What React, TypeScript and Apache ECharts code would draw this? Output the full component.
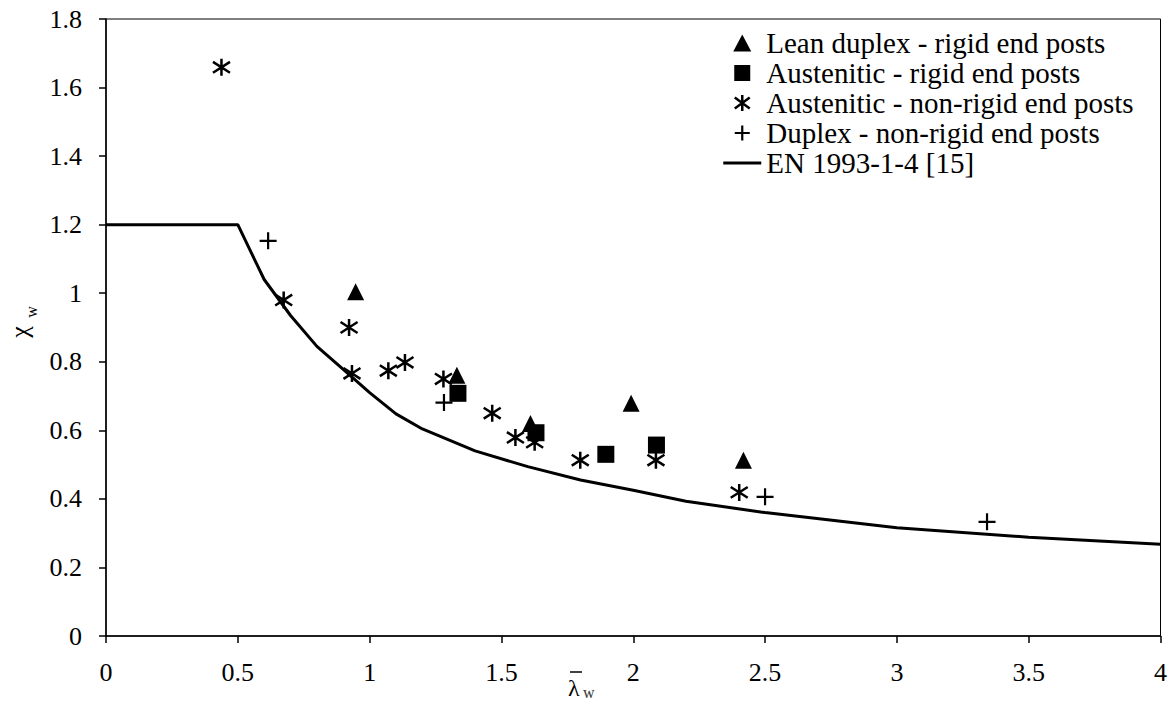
import React, { useEffect, useRef } from 'react';
import * as echarts from 'echarts';

// EN 1993-1-4 design curve
const curveLambda = [0, 0.5, 0.6, 0.7, 0.8, 0.9, 1.0, 1.1, 1.2, 1.4, 1.6, 1.8, 2.0, 2.2, 2.5, 3.0, 3.5, 4.0];
const curveChi = [1.2, 1.2, 1.04, 0.935, 0.845, 0.778, 0.71, 0.648, 0.604, 0.54, 0.494, 0.455, 0.425, 0.393, 0.36, 0.316, 0.288, 0.268];

// Lean duplex - rigid end posts
const leanLambda = [0.947, 1.331, 1.61, 1.992, 2.418];
const leanChi = [1.004, 0.761, 0.62, 0.679, 0.513];

// Austenitic - rigid end posts
const austRigidLambda = [1.335, 1.631, 1.896, 2.088];
const austRigidChi = [0.708, 0.593, 0.53, 0.557];

// Austenitic - non-rigid end posts
const austNonLambda = [0.438, 0.674, 0.922, 0.933, 1.071, 1.134, 1.28, 1.465, 1.553, 1.626, 1.799, 2.086, 2.402];
const austNonChi = [1.659, 0.98, 0.9, 0.766, 0.774, 0.798, 0.75, 0.65, 0.579, 0.565, 0.513, 0.513, 0.419];

// Duplex - non-rigid end posts
const duplexLambda = [0.615, 1.282, 2.5, 3.342];
const duplexChi = [1.153, 0.681, 0.406, 0.333];

const seriesNames = [
  'Lean duplex - rigid end posts',
  'Austenitic - rigid end posts',
  'Austenitic - non-rigid end posts',
  'Duplex - non-rigid end posts',
  'EN 1993-1-4 [15]',
];

const FONT = 'Liberation Serif, serif';
const ASTERISK = 'path://M5,0L5,10M0,1.8L10,8.2M0,8.2L10,1.8';
const PLUS = 'path://M5,0L5,10M0,5L10,5';

// legend icons drawn in a 38x17 box (the leading M points fix the box)
const BOX = 'M0,0M38,17';
const LEG_TRI = `path://${BOX}M19,0L28,17L10,17Z`;
const LEG_SQ = `path://${BOX}M11,0.5H27V16.5H11Z`;
const LEG_AST = `path://${BOX}M19,0.5L19,16.5M11.5,3L26.5,14M11.5,14L26.5,3`;
const LEG_PLUS = `path://${BOX}M19,1L19,16M11.5,8.5L26.5,8.5`;
const LEG_LINE = `path://${BOX}M0,7H38V10H0Z`;

const zip = (xs: number[], ys: number[]) => xs.map((x, i) => [x, ys[i]]);

export default function App() {
  const ref = useRef<HTMLDivElement>(null);
  useEffect(() => {
    if (!ref.current) return;
    const chart = echarts.init(ref.current, null, { renderer: 'svg' });
    const option: any = {
      animation: false,
      backgroundColor: '#fff',
      textStyle: { fontFamily: FONT },
      grid: {
        left: 106,
        right: 8,
        top: 19,
        bottom: 69,
        show: true,
        borderColor: '#000',
        borderWidth: 1,
      },
      xAxis: {
        type: 'value',
        min: 0,
        max: 4,
        interval: 0.5,
        axisLine: { show: true, onZero: false, lineStyle: { color: '#000', width: 1.5 } },
        axisTick: { show: true, length: 7, lineStyle: { color: '#000', width: 1.5 } },
        axisLabel: {
          color: '#000',
          fontFamily: FONT,
          fontSize: 26,
          margin: 23,
          formatter: (v: number) => String(Math.round(v * 10) / 10),
        },
        splitLine: { show: false },
      },
      yAxis: {
        type: 'value',
        min: 0,
        max: 1.8,
        interval: 0.2,
        axisLine: { show: true, lineStyle: { color: '#000', width: 1.5 } },
        axisTick: { show: true, length: 7, lineStyle: { color: '#000', width: 1.5 } },
        axisLabel: {
          color: '#000',
          fontFamily: FONT,
          fontSize: 26,
          margin: 24,
          formatter: (v: number) => String(Math.round(v * 10) / 10),
        },
        splitLine: { show: false },
      },
      legend: {
        orient: 'vertical',
        left: 717,
        top: 23,
        itemWidth: 38,
        itemHeight: 17,
        itemGap: 0,
        textStyle: { color: '#000', fontFamily: FONT, fontSize: 29, lineHeight: 30 },
        data: [
          { name: seriesNames[0], icon: LEG_TRI, itemStyle: { color: '#000', opacity: 1, borderWidth: 0 } },
          { name: seriesNames[1], icon: LEG_SQ, itemStyle: { color: '#000', opacity: 1, borderWidth: 0 } },
          { name: seriesNames[2], icon: LEG_AST, itemStyle: { color: '#000', opacity: 1, borderWidth: 2.5, borderColor: '#000' } },
          { name: seriesNames[3], icon: LEG_PLUS, itemStyle: { color: '#000', opacity: 1, borderWidth: 2.2, borderColor: '#000' } },
          { name: seriesNames[4], icon: LEG_LINE, itemStyle: { color: '#000', opacity: 1, borderWidth: 0 } },
        ],
      },
      series: [
        {
          name: seriesNames[4],
          type: 'line',
          data: zip(curveLambda, curveChi),
          symbol: 'none',
          smooth: false,
          lineStyle: { color: '#000', width: 3 },
          itemStyle: { color: '#000' },
          z: 1,
        },
        {
          name: seriesNames[0],
          type: 'scatter',
          data: zip(leanLambda, leanChi),
          symbol: 'triangle',
          symbolSize: 17,
          itemStyle: { color: '#000', opacity: 1 },
          z: 3,
        },
        {
          name: seriesNames[1],
          type: 'scatter',
          data: zip(austRigidLambda, austRigidChi),
          symbol: 'rect',
          symbolSize: 17,
          itemStyle: { color: '#000', opacity: 1 },
          z: 3,
        },
        {
          name: seriesNames[2],
          type: 'scatter',
          data: zip(austNonLambda, austNonChi),
          symbol: ASTERISK,
          symbolSize: 17,
          itemStyle: { color: '#000', borderColor: '#000', borderWidth: 2.5, opacity: 1 },
          z: 3,
        },
        {
          name: seriesNames[3],
          type: 'scatter',
          data: zip(duplexLambda, duplexChi),
          symbol: PLUS,
          symbolSize: 17,
          itemStyle: { color: '#000', borderColor: '#000', borderWidth: 2.2, opacity: 1 },
          z: 3,
        },
      ],
      graphic: [
        // x-axis name: lambda-bar subscript w
        {
          type: 'text',
          left: 568,
          top: 676,
          style: { text: 'λ', fill: '#000', font: `24px ${FONT}` },
        },
        {
          type: 'line',
          shape: { x1: 570, y1: 672, x2: 582, y2: 672 },
          style: { stroke: '#000', lineWidth: 1.5 },
        },
        {
          type: 'text',
          left: 583,
          top: 684,
          style: { text: 'w', fill: '#333', font: `16px ${FONT}` },
        },
        // y-axis name: chi subscript w (rotated)
        {
          type: 'text',
          x: 19,
          y: 332,
          rotation: Math.PI / 2,
          style: { text: 'χ', fill: '#000', font: `26px ${FONT}`, align: 'center', verticalAlign: 'middle' },
        },
        {
          type: 'text',
          x: 31,
          y: 312,
          rotation: Math.PI / 2,
          style: { text: 'w', fill: '#000', font: `16px ${FONT}`, align: 'center', verticalAlign: 'middle' },
        },
      ],
    };
    chart.setOption(option);
    return () => chart.dispose();
  }, []);
  return (
    <div
      ref={ref}
      style={{ position: 'fixed', left: 0, top: 0, width: 1170, height: 705, background: '#fff' }}
    />
  );
}
